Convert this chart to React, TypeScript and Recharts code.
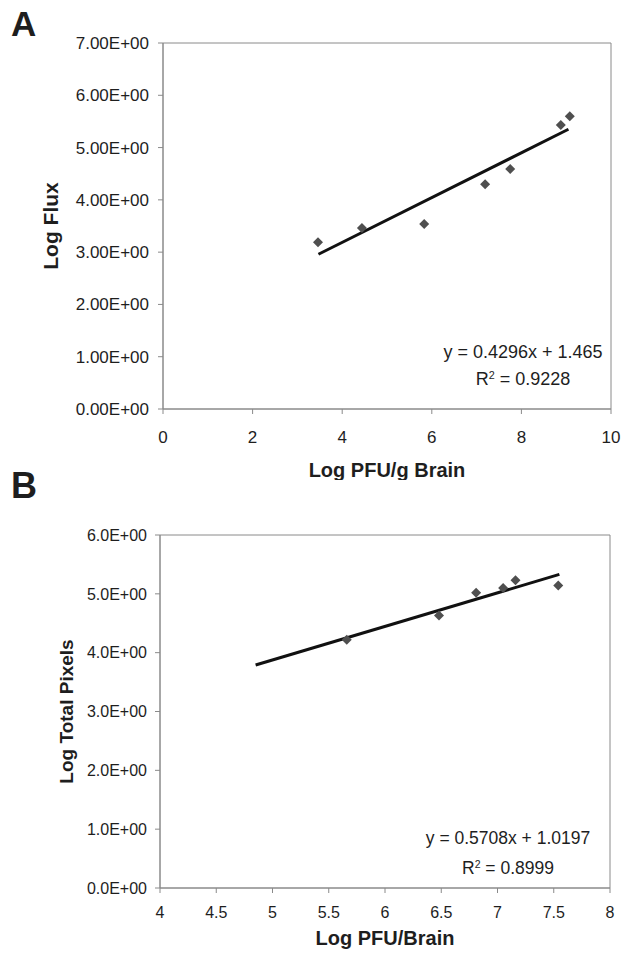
import {
  ReferenceArea,
  Scatter,
  ScatterChart,
  XAxis,
  YAxis
} from "recharts"

// panel A: flux vs PFU/g brain
const fluxX = [3.46, 4.44, 5.83, 7.19, 7.75, 8.88, 9.08]
const fluxY = [3.19, 3.46, 3.54, 4.3, 4.59, 5.43, 5.6]
const fluxFitX = [3.47, 9.05]
const fluxFitY = [2.96, 5.35]
const fluxXTicks = [0, 2, 4, 6, 8, 10]
const fluxYTicks = [0, 1, 2, 3, 4, 5, 6, 7]

// panel B: total pixels vs PFU/brain
const pixX = [5.66, 6.48, 6.81, 7.05, 7.16, 7.54]
const pixY = [4.22, 4.63, 5.02, 5.1, 5.23, 5.14]
const pixFitX = [4.85, 7.55]
const pixFitY = [3.79, 5.33]
const pixXTicks = [4, 4.5, 5, 5.5, 6, 6.5, 7, 7.5, 8]
const pixYTicks = [0, 1, 2, 3, 4, 5, 6]

const zip = (xs: number[], ys: number[]) => xs.map((x, i) => ({ x, y: ys[i] }))

const FONT = '"Liberation Sans", Arial, sans-serif'
const AXIS = "#8a8a8a"
const INK = "#1e1e1e"

const Diamond = (props: any) => {
  const { cx, cy } = props
  const r = 5
  return (
    <polygon
      points={`${cx},${cy - r} ${cx + r},${cy} ${cx},${cy + r} ${cx - r},${cy}`}
      fill="#4f4f4f"
    />
  )
}

const NoDot = () => <g />

const yLabel = (text: string, dx: number, size: number) => (p: any) => {
  const vb = p.viewBox || { x: 0, y: 0, height: 0 }
  const x = vb.x + dx
  const y = vb.y + vb.height / 2
  return (
    <text
      x={x}
      y={y}
      transform={`rotate(-90, ${x}, ${y})`}
      textAnchor="middle"
      dominantBaseline="central"
      fill={INK}
      fontSize={size}
      fontWeight="bold"
      fontFamily={FONT}
    >
      {text}
    </text>
  )
}

const Equation = ({ mid, center, eq, r2, size, lh }: any) => (
  <div
    style={{
      position: "absolute",
      top: mid - lh / 2,
      left: center - 120,
      width: 240,
      textAlign: "center",
      fontFamily: FONT,
      fontSize: size,
      lineHeight: lh + "px",
      color: INK
    }}
  >
    <div>{eq}</div>
    <div>
      R<sup style={{ fontSize: size * 0.6, verticalAlign: "top", lineHeight: lh - 8 + "px" }}>2</sup> = {r2}
    </div>
  </div>
)

const App = () => {
  return (
    <div
      style={{
        position: "absolute",
        left: 0,
        top: 0,
        width: 621,
        height: 958,
        background: "#fff",
        fontFamily: FONT
      }}
    >
      <div style={{ position: "absolute", left: 11, top: 4, fontSize: 35, fontWeight: "bold", color: INK }}>A</div>
      <div style={{ position: "absolute", left: 11, top: 465, fontSize: 36, fontWeight: "bold", color: INK }}>B</div>

      <div style={{ position: "absolute", left: 0, top: 0 }}>
        <ScatterChart width={621} height={480} margin={{ top: 43, right: 10, bottom: 0, left: 0 }}>
          <XAxis
            dataKey="x"
            type="number"
            domain={[0, 10]}
            ticks={fluxXTicks}
            height={71}
            tickSize={5}
            tickMargin={17}
            stroke={AXIS}
            tick={{ fill: INK, fontSize: 17, fontFamily: FONT }}
            label={{
              value: "Log PFU/g Brain",
              position: "insideBottom",
              offset: 3,
              fill: INK,
              fontSize: 20,
              fontWeight: "bold",
              fontFamily: FONT
            }}
          />
          <YAxis
            dataKey="y"
            type="number"
            domain={[0, 7]}
            ticks={fluxYTicks}
            width={163}
            tickSize={5}
            tickMargin={9}
            stroke={AXIS}
            tick={{ fill: INK, fontSize: 17, fontFamily: FONT }}
            tickFormatter={(v: number) => v.toFixed(2) + "E+00"}
            label={{ value: "Log Flux", content: yLabel("Log Flux", 50, 21) }}
          />
          <ReferenceArea x1={0} x2={10} y1={0} y2={7} fill="none" stroke={AXIS} strokeWidth={1} />
          <Scatter
            data={zip(fluxFitX, fluxFitY)}
            line={{ stroke: "#111", strokeWidth: 3 }}
            shape={NoDot}
            isAnimationActive={false}
          />
          <Scatter data={zip(fluxX, fluxY)} shape={Diamond} isAnimationActive={false} />
        </ScatterChart>
      </div>

      <div style={{ position: "absolute", left: 0, top: 480 }}>
        <ScatterChart width={621} height={478} margin={{ top: 55, right: 11, bottom: 0, left: 0 }}>
          <XAxis
            dataKey="x"
            type="number"
            domain={[4, 8]}
            ticks={pixXTicks}
            height={70}
            tickSize={5}
            tickMargin={14}
            stroke={AXIS}
            tick={{ fill: INK, fontSize: 16, fontFamily: FONT }}
            label={{
              value: "Log PFU/Brain",
              position: "insideBottom",
              offset: 13,
              fill: INK,
              fontSize: 20,
              fontWeight: "bold",
              fontFamily: FONT
            }}
          />
          <YAxis
            dataKey="y"
            type="number"
            domain={[0, 6]}
            ticks={pixYTicks}
            width={160}
            tickSize={5}
            tickMargin={8}
            stroke={AXIS}
            tick={{ fill: INK, fontSize: 16, fontFamily: FONT }}
            tickFormatter={(v: number) => v.toFixed(1) + "E+00"}
            label={{ value: "Log Total Pixels", content: yLabel("Log Total Pixels", 66, 19) }}
          />
          <ReferenceArea x1={4} x2={8} y1={0} y2={6} fill="none" stroke={AXIS} strokeWidth={1} />
          <Scatter
            data={zip(pixFitX, pixFitY)}
            line={{ stroke: "#111", strokeWidth: 3 }}
            shape={NoDot}
            isAnimationActive={false}
          />
          <Scatter data={zip(pixX, pixY)} shape={Diamond} isAnimationActive={false} />
        </ScatterChart>
      </div>

      <Equation mid={352} center={523} eq="y = 0.4296x + 1.465" r2="0.9228" size={18} lh={27} />
      <Equation mid={838} center={508} eq="y = 0.5708x + 1.0197" r2="0.8999" size={17.5} lh={30} />
    </div>
  )
}

export default App
